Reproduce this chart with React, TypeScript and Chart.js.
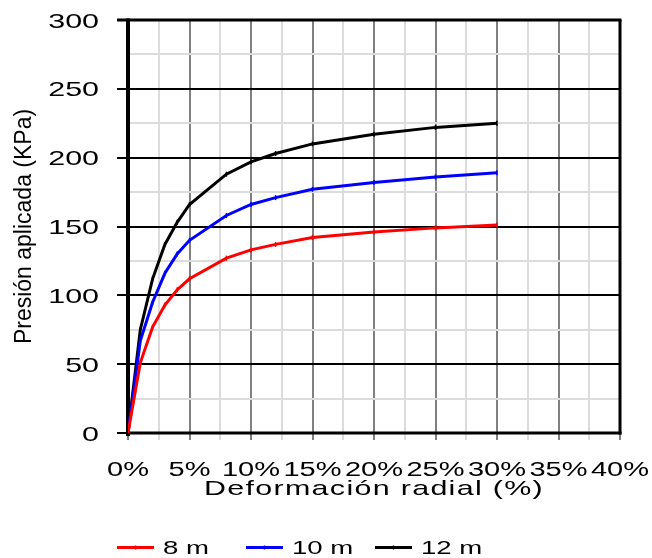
import { useEffect, useRef } from "react";
import { Chart, registerables } from "chart.js";

Chart.register(...registerables);

// Radial strain (%) at each load step
const strainPct = [0, 1, 2, 3, 4, 5, 8, 10, 12, 15, 20, 25, 30];
// Applied pressure (KPa) for each depth
const pressure8m = [0, 51, 77, 93, 104, 112, 127, 133, 137, 142, 146, 149, 151];
const pressure10m = [0, 67, 95, 116, 130, 140, 158, 166, 171, 177, 182, 186, 189];
const pressure12m = [0, 75, 112, 137, 153, 166, 188, 197, 203, 210, 217, 222, 225];

const seriesLabels = ["8 m", "10 m", "12 m"];
const seriesColors = ["#ff0000", "#0000ff", "#000000"];

const xTickValues = [0, 5, 10, 15, 20, 25, 30, 35, 40];
const yTickValues = [0, 50, 100, 150, 200, 250, 300];

const xTitle = "Deformación radial (%)";
const yTitle = "Presión aplicada (KPa)";

const FONT = '"Liberation Sans", Arial, Helvetica, sans-serif';
const WIDE = 1.45; // horizontal text expansion

function wideText(
  ctx: CanvasRenderingContext2D,
  text: string,
  x: number,
  y: number,
  align: "left" | "center" | "right",
  size: number,
  spacing = 0
) {
  ctx.save();
  ctx.font = `${size}px ${FONT}`;
  ctx.fillStyle = "#000";
  ctx.textBaseline = "alphabetic";
  ctx.textAlign = "left";
  (ctx as any).letterSpacing = `${spacing}px`;
  const w = ctx.measureText(text).width;
  ctx.translate(x, y);
  ctx.scale(WIDE, 1);
  const x0 = align === "center" ? -w / 2 : align === "right" ? -w : 0;
  ctx.fillText(text, x0, 0);
  ctx.restore();
}

function segment(
  ctx: CanvasRenderingContext2D,
  x1: number,
  y1: number,
  x2: number,
  y2: number,
  color: string,
  width: number
) {
  ctx.save();
  ctx.strokeStyle = color;
  ctx.lineWidth = width;
  ctx.beginPath();
  ctx.moveTo(x1, y1);
  ctx.lineTo(x2, y2);
  ctx.stroke();
  ctx.restore();
}

// White page, gridlines (as filled bars) and the plot frame, under the series
const gridPlugin = {
  id: "gridFrame",
  beforeDraw(chart: any) {
    const { ctx, width, height } = chart;
    ctx.save();
    ctx.fillStyle = "#ffffff";
    ctx.fillRect(0, 0, width, height);
    ctx.restore();
  },
  beforeDatasetsDraw(chart: any) {
    const { ctx, chartArea } = chart;
    const { left, right, top, bottom } = chartArea;
    const xs = chart.scales.x;
    const ys = chart.scales.y;

    ctx.save();
    // vertical lines: light at 2.5 %, grey at every 5 %
    for (const t of xs.ticks) {
      const px = Math.round(xs.getPixelForValue(t.value));
      ctx.fillStyle = t.value % 5 === 0 ? "#808080" : "#dcdcdc";
      ctx.fillRect(px - 1, top, 2, bottom + 7 - top);
    }
    // horizontal lines: light at 25, black at every 50
    for (const t of ys.ticks) {
      const py = Math.round(ys.getPixelForValue(t.value));
      if (t.value % 50 === 0) {
        ctx.fillStyle = "#000";
        ctx.fillRect(left - 11, py - 1, right - left + 11, 2);
      } else {
        ctx.fillStyle = "#dcdcdc";
        ctx.fillRect(left, py - 1, right - left, 2);
      }
    }
    ctx.restore();
    // frame
    segment(ctx, left - 11, top, right + 1.5, top, "#000", 3);
    segment(ctx, right, top, right, bottom + 1.5, "#000", 3);
    segment(ctx, left - 2, bottom, right + 1.5, bottom, "#000", 3);
    segment(ctx, left, top - 1.5, left, bottom + 3, "#000", 4);
  },
};

const textPlugin = {
  id: "texts",
  afterDraw(chart: any) {
    const { ctx, chartArea } = chart;
    const xs = chart.scales.x;
    const ys = chart.scales.y;

    // y tick labels
    for (const v of yTickValues) {
      const py = ys.getPixelForValue(v);
      wideText(ctx, String(v), 99, py + 7.5, "right", 21);
    }
    // x tick labels
    for (const v of xTickValues) {
      const px = xs.getPixelForValue(v);
      wideText(ctx, `${v}%`, px, 476, "center", 20);
    }
    // x title
    wideText(ctx, xTitle, (chartArea.left + chartArea.right) / 2, 495, "center", 21, 0.9);

    // y title (rotated)
    ctx.save();
    ctx.font = `23px ${FONT}`;
    ctx.fillStyle = "#000";
    ctx.textAlign = "center";
    ctx.textBaseline = "alphabetic";
    ctx.translate(31, (chartArea.top + chartArea.bottom) / 2);
    ctx.rotate(-Math.PI / 2);
    ctx.fillText(yTitle, 0, 0);
    ctx.restore();

    // legend
    chart.data.datasets.forEach((ds: any, i: number) => {
      const x0 = 117 + i * 129;
      const ly = 547.5;
      segment(ctx, x0, ly, x0 + 37, ly, ds.borderColor, 3);
      segment(ctx, x0 + 18.5, ly - 2, x0 + 18.5, ly + 2, ds.borderColor, 1.5);
      wideText(ctx, ds.label, x0 + 46, 554, "left", 19);
    });
  },
};

export default function App() {
  const canvasRef = useRef<HTMLCanvasElement | null>(null);

  useEffect(() => {
    document.body.style.margin = "0";
    const canvas = canvasRef.current;
    if (!canvas) return;

    const series = [pressure8m, pressure10m, pressure12m];
    const chart = new Chart(canvas, {
      type: "line",
      data: {
        datasets: series.map((vals, i) => ({
          label: seriesLabels[i],
          data: strainPct.map((x, k) => ({ x, y: vals[k] })),
          borderColor: seriesColors[i],
          backgroundColor: seriesColors[i],
          borderWidth: 3,
          pointStyle: "line",
          pointRotation: 90,
          pointRadius: 2.5,
          pointBorderWidth: 1.5,
          tension: 0,
          fill: false,
        })),
      },
      options: {
        animation: false,
        responsive: false,
        maintainAspectRatio: false,
        devicePixelRatio: 1,
        layout: { padding: { top: 20, right: 32, left: 0, bottom: 0 } },
        plugins: {
          legend: { display: false },
          tooltip: { enabled: false },
        },
        scales: {
          x: {
            type: "linear",
            min: 0,
            max: 40,
            ticks: { stepSize: 2.5, display: false },
            grid: { display: false },
            border: { display: false },
            afterFit: (s: any) => {
              s.height = 125;
            },
          },
          y: {
            type: "linear",
            min: 0,
            max: 300,
            ticks: { stepSize: 25, display: false },
            grid: { display: false },
            border: { display: false },
            afterFit: (s: any) => {
              s.width = 128;
            },
          },
        },
      } as any,
      plugins: [gridPlugin, textPlugin],
    });

    return () => chart.destroy();
  }, []);

  return (
    <div style={{ width: 652, height: 558 }}>
      <canvas
        ref={canvasRef}
        width={652}
        height={558}
        style={{ display: "block", width: 652, height: 558 }}
      />
    </div>
  );
}
